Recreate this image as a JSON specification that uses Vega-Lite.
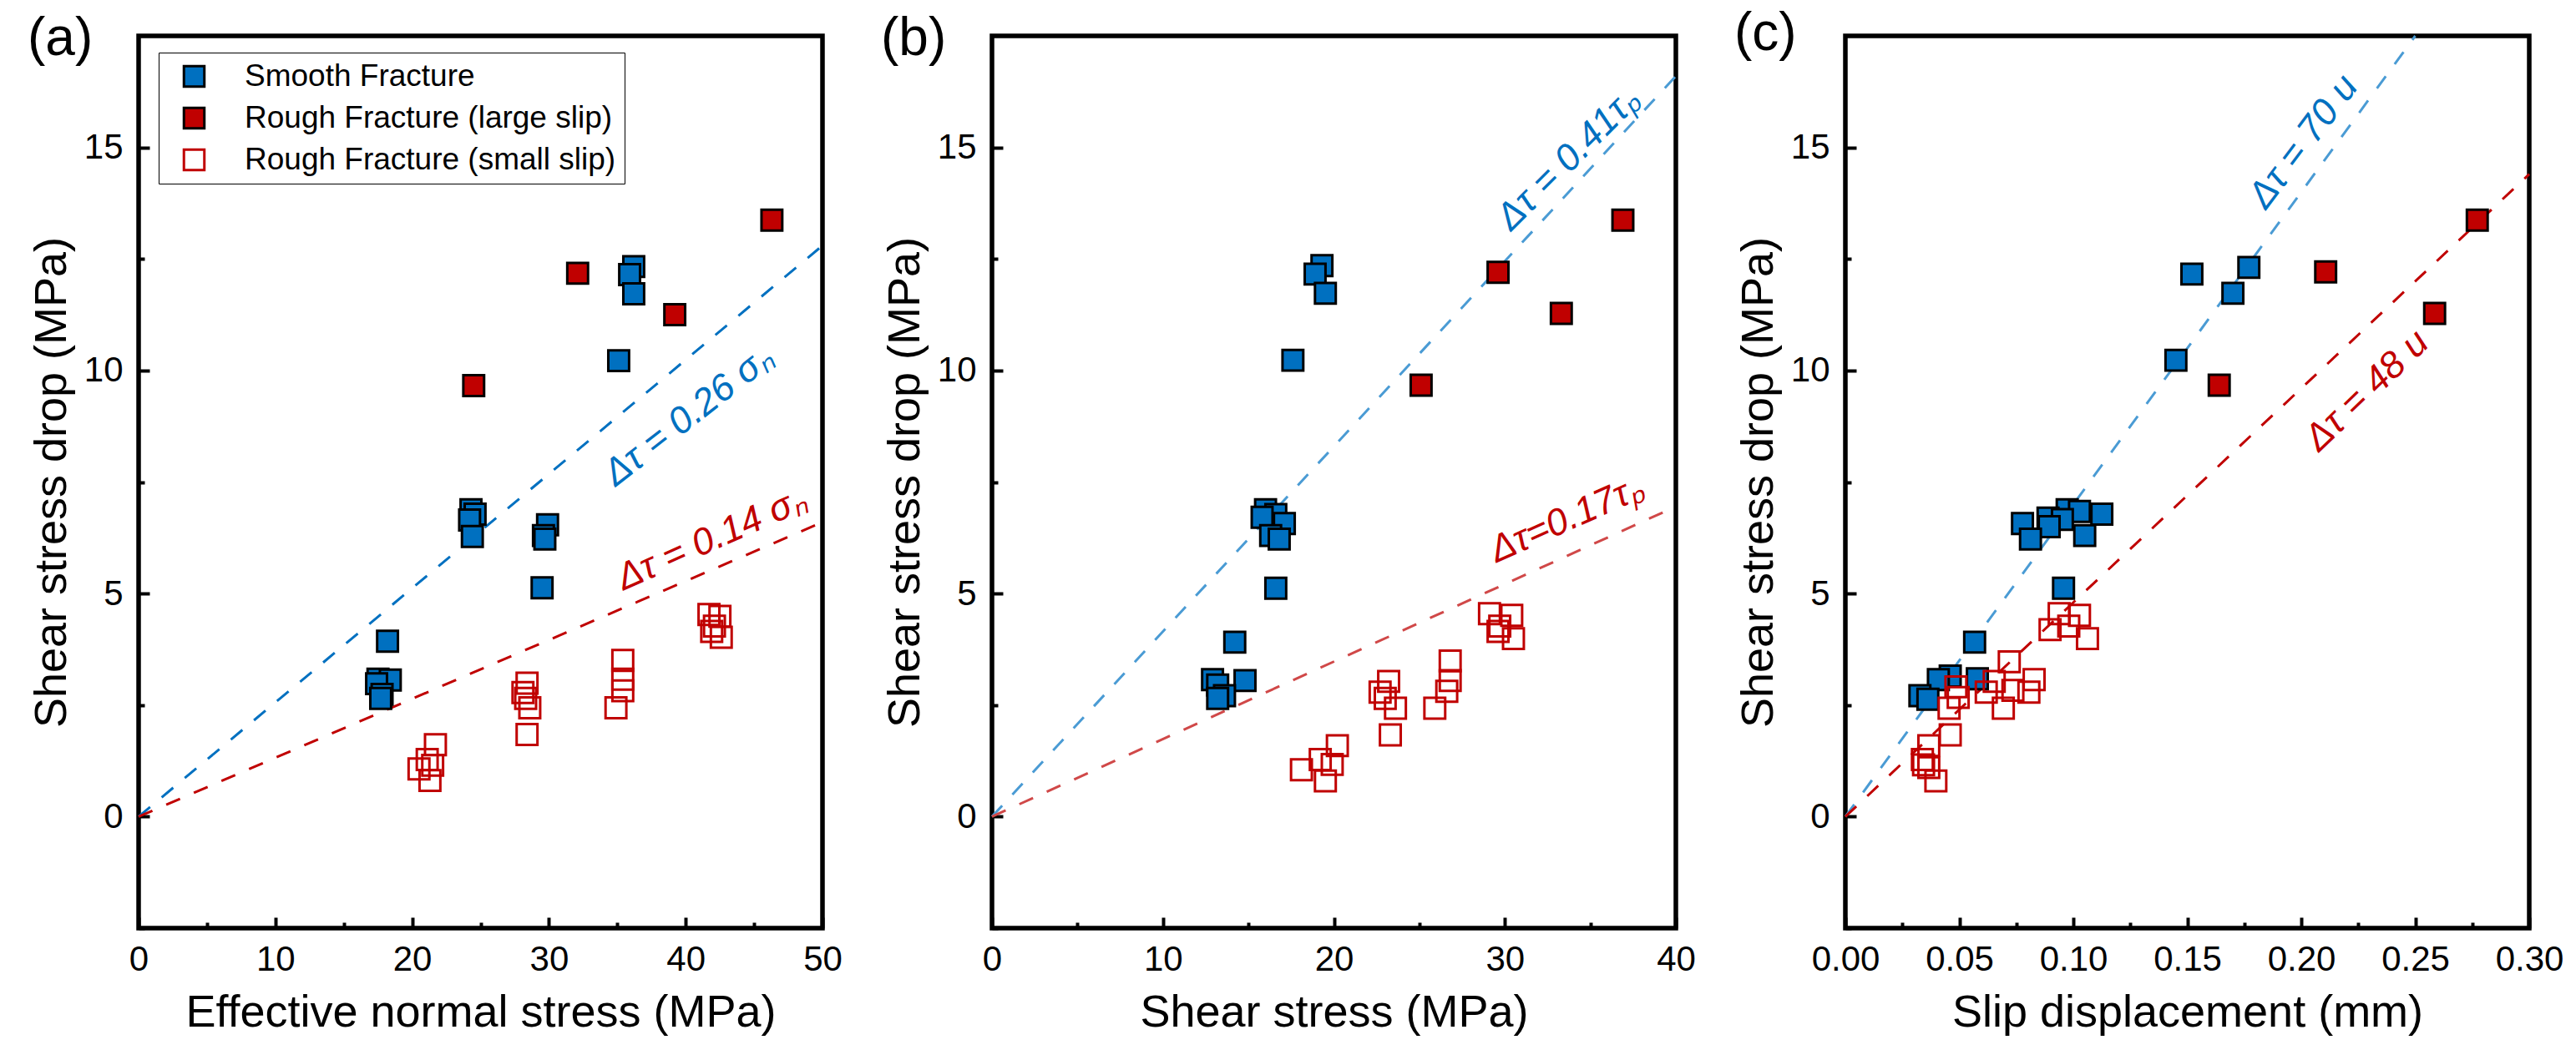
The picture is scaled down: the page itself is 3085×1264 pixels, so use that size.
{
  "$schema": "https://vega.github.io/schema/vega-lite/v6.json",
  "background": "white",
  "padding": {"left": 30, "top": 6, "right": 0, "bottom": 0},
  "config": {
    "font": "Liberation Sans",
    "view": {"stroke": "black", "strokeWidth": 5.5},
    "axis": {
      "domain": false,
      "grid": false,
      "labelFont": "Liberation Sans",
      "labelFontSize": 42,
      "labelColor": "black",
      "labelFlush": false,
      "labelOverlap": false,
      "titleFont": "Liberation Sans",
      "titleFontSize": 54,
      "titleFontWeight": "normal",
      "titleColor": "black",
      "tickColor": "black",
      "tickWidth": 4,
      "tickSize": -13
    },
    "axisX": {"labelPadding": 30, "titlePadding": 16},
    "axisY": {"labelPadding": 32, "titlePadding": 11},
    "title": {
      "font": "Liberation Sans",
      "fontSize": 64,
      "fontWeight": "normal",
      "color": "black",
      "anchor": "start",
      "frame": "group",
      "baseline": "alphabetic",
      "offset": 0,
      "dx": -133,
      "dy": 40
    },
    "legend": {
      "orient": "none",
      "legendX": 24,
      "legendY": 20,
      "labelFont": "Liberation Sans",
      "labelFontSize": 37,
      "labelColor": "black",
      "labelLimit": 600,
      "symbolType": "square",
      "symbolSize": 600,
      "symbolStrokeWidth": 3,
      "rowPadding": 12,
      "padding": 10,
      "symbolOffset": 14,
      "labelOffset": 42,
      "strokeColor": "black"
    }
  },
  "datasets": {
    "points": [
      {"panel": "a", "series": "Smooth Fracture", "x": 36.2, "y": 12.33},
      {"panel": "a", "series": "Smooth Fracture", "x": 35.9, "y": 12.15},
      {"panel": "a", "series": "Smooth Fracture", "x": 36.2, "y": 11.72},
      {"panel": "a", "series": "Smooth Fracture", "x": 35.1, "y": 10.22},
      {"panel": "a", "series": "Smooth Fracture", "x": 24.3, "y": 6.88},
      {"panel": "a", "series": "Smooth Fracture", "x": 24.6, "y": 6.78},
      {"panel": "a", "series": "Smooth Fracture", "x": 24.2, "y": 6.65},
      {"panel": "a", "series": "Smooth Fracture", "x": 24.4, "y": 6.28},
      {"panel": "a", "series": "Smooth Fracture", "x": 29.9, "y": 6.54},
      {"panel": "a", "series": "Smooth Fracture", "x": 29.6, "y": 6.3},
      {"panel": "a", "series": "Smooth Fracture", "x": 29.7, "y": 6.22},
      {"panel": "a", "series": "Smooth Fracture", "x": 29.5, "y": 5.13},
      {"panel": "a", "series": "Smooth Fracture", "x": 18.2, "y": 3.93},
      {"panel": "a", "series": "Smooth Fracture", "x": 17.5, "y": 3.08},
      {"panel": "a", "series": "Smooth Fracture", "x": 18.4, "y": 3.06},
      {"panel": "a", "series": "Smooth Fracture", "x": 17.4, "y": 2.98},
      {"panel": "a", "series": "Smooth Fracture", "x": 17.8, "y": 2.74},
      {"panel": "a", "series": "Smooth Fracture", "x": 17.7, "y": 2.65},
      {"panel": "a", "series": "Rough Fracture (large slip)", "x": 46.3, "y": 13.37},
      {"panel": "a", "series": "Rough Fracture (large slip)", "x": 32.1, "y": 12.18},
      {"panel": "a", "series": "Rough Fracture (large slip)", "x": 39.2, "y": 11.25},
      {"panel": "a", "series": "Rough Fracture (large slip)", "x": 24.5, "y": 9.66},
      {"panel": "a", "series": "Rough Fracture (small slip)", "x": 21.3, "y": 0.81},
      {"panel": "a", "series": "Rough Fracture (small slip)", "x": 20.5, "y": 1.07},
      {"panel": "a", "series": "Rough Fracture (small slip)", "x": 21.1, "y": 1.28},
      {"panel": "a", "series": "Rough Fracture (small slip)", "x": 21.5, "y": 1.15},
      {"panel": "a", "series": "Rough Fracture (small slip)", "x": 21.7, "y": 1.61},
      {"panel": "a", "series": "Rough Fracture (small slip)", "x": 28.4, "y": 1.84},
      {"panel": "a", "series": "Rough Fracture (small slip)", "x": 28.6, "y": 2.44},
      {"panel": "a", "series": "Rough Fracture (small slip)", "x": 28.1, "y": 2.78},
      {"panel": "a", "series": "Rough Fracture (small slip)", "x": 28.4, "y": 2.99},
      {"panel": "a", "series": "Rough Fracture (small slip)", "x": 28.3, "y": 2.65},
      {"panel": "a", "series": "Rough Fracture (small slip)", "x": 34.9, "y": 2.44},
      {"panel": "a", "series": "Rough Fracture (small slip)", "x": 35.4, "y": 2.82},
      {"panel": "a", "series": "Rough Fracture (small slip)", "x": 35.4, "y": 3.08},
      {"panel": "a", "series": "Rough Fracture (small slip)", "x": 35.4, "y": 3.5},
      {"panel": "a", "series": "Rough Fracture (small slip)", "x": 41.7, "y": 4.53},
      {"panel": "a", "series": "Rough Fracture (small slip)", "x": 42.1, "y": 4.27},
      {"panel": "a", "series": "Rough Fracture (small slip)", "x": 42.5, "y": 4.49},
      {"panel": "a", "series": "Rough Fracture (small slip)", "x": 41.9, "y": 4.15},
      {"panel": "a", "series": "Rough Fracture (small slip)", "x": 42.6, "y": 4.02},
      {"panel": "b", "series": "Smooth Fracture", "x": 19.3, "y": 12.35},
      {"panel": "b", "series": "Smooth Fracture", "x": 18.9, "y": 12.16},
      {"panel": "b", "series": "Smooth Fracture", "x": 19.5, "y": 11.73},
      {"panel": "b", "series": "Smooth Fracture", "x": 17.6, "y": 10.23},
      {"panel": "b", "series": "Smooth Fracture", "x": 16.0, "y": 6.88},
      {"panel": "b", "series": "Smooth Fracture", "x": 16.6, "y": 6.77},
      {"panel": "b", "series": "Smooth Fracture", "x": 15.8, "y": 6.71},
      {"panel": "b", "series": "Smooth Fracture", "x": 17.1, "y": 6.57},
      {"panel": "b", "series": "Smooth Fracture", "x": 16.3, "y": 6.3},
      {"panel": "b", "series": "Smooth Fracture", "x": 16.8, "y": 6.22},
      {"panel": "b", "series": "Smooth Fracture", "x": 16.6, "y": 5.12},
      {"panel": "b", "series": "Smooth Fracture", "x": 14.2, "y": 3.91},
      {"panel": "b", "series": "Smooth Fracture", "x": 12.9, "y": 3.07},
      {"panel": "b", "series": "Smooth Fracture", "x": 14.8, "y": 3.05},
      {"panel": "b", "series": "Smooth Fracture", "x": 13.2, "y": 2.95},
      {"panel": "b", "series": "Smooth Fracture", "x": 13.6, "y": 2.71},
      {"panel": "b", "series": "Smooth Fracture", "x": 13.2, "y": 2.65},
      {"panel": "b", "series": "Rough Fracture (large slip)", "x": 36.9, "y": 13.37},
      {"panel": "b", "series": "Rough Fracture (large slip)", "x": 29.6, "y": 12.2},
      {"panel": "b", "series": "Rough Fracture (large slip)", "x": 33.3, "y": 11.28},
      {"panel": "b", "series": "Rough Fracture (large slip)", "x": 25.1, "y": 9.67},
      {"panel": "b", "series": "Rough Fracture (small slip)", "x": 29.1, "y": 4.55},
      {"panel": "b", "series": "Rough Fracture (small slip)", "x": 30.4, "y": 4.51},
      {"panel": "b", "series": "Rough Fracture (small slip)", "x": 29.7, "y": 4.27},
      {"panel": "b", "series": "Rough Fracture (small slip)", "x": 29.6, "y": 4.15},
      {"panel": "b", "series": "Rough Fracture (small slip)", "x": 30.5, "y": 3.99},
      {"panel": "b", "series": "Rough Fracture (small slip)", "x": 26.8, "y": 3.49},
      {"panel": "b", "series": "Rough Fracture (small slip)", "x": 26.8, "y": 3.05},
      {"panel": "b", "series": "Rough Fracture (small slip)", "x": 26.6, "y": 2.81},
      {"panel": "b", "series": "Rough Fracture (small slip)", "x": 25.9, "y": 2.43},
      {"panel": "b", "series": "Rough Fracture (small slip)", "x": 23.2, "y": 3.03},
      {"panel": "b", "series": "Rough Fracture (small slip)", "x": 22.7, "y": 2.79},
      {"panel": "b", "series": "Rough Fracture (small slip)", "x": 23.0, "y": 2.65},
      {"panel": "b", "series": "Rough Fracture (small slip)", "x": 23.6, "y": 2.43},
      {"panel": "b", "series": "Rough Fracture (small slip)", "x": 23.3, "y": 1.83},
      {"panel": "b", "series": "Rough Fracture (small slip)", "x": 20.2, "y": 1.59},
      {"panel": "b", "series": "Rough Fracture (small slip)", "x": 19.2, "y": 1.28},
      {"panel": "b", "series": "Rough Fracture (small slip)", "x": 19.9, "y": 1.17},
      {"panel": "b", "series": "Rough Fracture (small slip)", "x": 18.1, "y": 1.05},
      {"panel": "b", "series": "Rough Fracture (small slip)", "x": 19.5, "y": 0.8},
      {"panel": "c", "series": "Smooth Fracture", "x": 0.177, "y": 12.31},
      {"panel": "c", "series": "Smooth Fracture", "x": 0.152, "y": 12.16},
      {"panel": "c", "series": "Smooth Fracture", "x": 0.17, "y": 11.73},
      {"panel": "c", "series": "Smooth Fracture", "x": 0.145, "y": 10.23},
      {"panel": "c", "series": "Smooth Fracture", "x": 0.0973, "y": 6.88},
      {"panel": "c", "series": "Smooth Fracture", "x": 0.1027, "y": 6.84},
      {"panel": "c", "series": "Smooth Fracture", "x": 0.1125, "y": 6.78},
      {"panel": "c", "series": "Smooth Fracture", "x": 0.0889, "y": 6.69},
      {"panel": "c", "series": "Smooth Fracture", "x": 0.0952, "y": 6.66},
      {"panel": "c", "series": "Smooth Fracture", "x": 0.0777, "y": 6.57},
      {"panel": "c", "series": "Smooth Fracture", "x": 0.0894, "y": 6.5},
      {"panel": "c", "series": "Smooth Fracture", "x": 0.105, "y": 6.3},
      {"panel": "c", "series": "Smooth Fracture", "x": 0.0812, "y": 6.22},
      {"panel": "c", "series": "Smooth Fracture", "x": 0.0957, "y": 5.12},
      {"panel": "c", "series": "Smooth Fracture", "x": 0.0567, "y": 3.91},
      {"panel": "c", "series": "Smooth Fracture", "x": 0.046, "y": 3.15},
      {"panel": "c", "series": "Smooth Fracture", "x": 0.0579, "y": 3.09},
      {"panel": "c", "series": "Smooth Fracture", "x": 0.0408, "y": 3.07},
      {"panel": "c", "series": "Smooth Fracture", "x": 0.0327, "y": 2.71},
      {"panel": "c", "series": "Smooth Fracture", "x": 0.0362, "y": 2.63},
      {"panel": "c", "series": "Rough Fracture (large slip)", "x": 0.2772, "y": 13.37},
      {"panel": "c", "series": "Rough Fracture (large slip)", "x": 0.2107, "y": 12.21},
      {"panel": "c", "series": "Rough Fracture (large slip)", "x": 0.2585, "y": 11.28},
      {"panel": "c", "series": "Rough Fracture (large slip)", "x": 0.164, "y": 9.67},
      {"panel": "c", "series": "Rough Fracture (small slip)", "x": 0.0938, "y": 4.55},
      {"panel": "c", "series": "Rough Fracture (small slip)", "x": 0.1027, "y": 4.51},
      {"panel": "c", "series": "Rough Fracture (small slip)", "x": 0.098, "y": 4.27},
      {"panel": "c", "series": "Rough Fracture (small slip)", "x": 0.0898, "y": 4.19},
      {"panel": "c", "series": "Rough Fracture (small slip)", "x": 0.1062, "y": 3.99},
      {"panel": "c", "series": "Rough Fracture (small slip)", "x": 0.0719, "y": 3.47},
      {"panel": "c", "series": "Rough Fracture (small slip)", "x": 0.0828, "y": 3.07},
      {"panel": "c", "series": "Rough Fracture (small slip)", "x": 0.0653, "y": 3.03},
      {"panel": "c", "series": "Rough Fracture (small slip)", "x": 0.0735, "y": 2.83},
      {"panel": "c", "series": "Rough Fracture (small slip)", "x": 0.0805, "y": 2.79},
      {"panel": "c", "series": "Rough Fracture (small slip)", "x": 0.0618, "y": 2.79},
      {"panel": "c", "series": "Rough Fracture (small slip)", "x": 0.0485, "y": 2.91},
      {"panel": "c", "series": "Rough Fracture (small slip)", "x": 0.0495, "y": 2.67},
      {"panel": "c", "series": "Rough Fracture (small slip)", "x": 0.0455, "y": 2.43},
      {"panel": "c", "series": "Rough Fracture (small slip)", "x": 0.0693, "y": 2.43},
      {"panel": "c", "series": "Rough Fracture (small slip)", "x": 0.046, "y": 1.83},
      {"panel": "c", "series": "Rough Fracture (small slip)", "x": 0.0366, "y": 1.59},
      {"panel": "c", "series": "Rough Fracture (small slip)", "x": 0.0338, "y": 1.28},
      {"panel": "c", "series": "Rough Fracture (small slip)", "x": 0.0343, "y": 1.16},
      {"panel": "c", "series": "Rough Fracture (small slip)", "x": 0.0366, "y": 1.1},
      {"panel": "c", "series": "Rough Fracture (small slip)", "x": 0.0397, "y": 0.8}
    ],
    "fits": [
      {"panel": "a", "fit": "smooth", "x": 0, "y": 0},
      {"panel": "a", "fit": "smooth", "x": 50, "y": 12.8},
      {"panel": "a", "fit": "rough", "x": 0, "y": 0},
      {"panel": "a", "fit": "rough", "x": 50, "y": 6.6},
      {"panel": "b", "fit": "smooth", "x": 0, "y": 0},
      {"panel": "b", "fit": "smooth", "x": 40, "y": 16.6},
      {"panel": "b", "fit": "rough", "x": 0, "y": 0},
      {"panel": "b", "fit": "rough", "x": 40, "y": 6.95},
      {"panel": "c", "fit": "smooth", "x": 0, "y": 0},
      {"panel": "c", "fit": "smooth", "x": 0.25, "y": 17.5},
      {"panel": "c", "fit": "rough", "x": 0, "y": 0},
      {"panel": "c", "fit": "rough", "x": 0.3, "y": 14.4}
    ],
    "notes": [
      {"id": "a1", "x": 40.2, "y": 8.99, "label": "Δτ = 0.26 σₙ"},
      {"id": "a2", "x": 41.9, "y": 6.23, "label": "Δτ = 0.14 σₙ"},
      {"id": "b1", "x": 33.7, "y": 14.75, "label": "Δτ = 0.41τₚ"},
      {"id": "b2", "x": 33.6, "y": 6.67, "label": "Δτ=0.17τₚ"},
      {"id": "c1", "x": 0.2009, "y": 15.13, "label": "Δτ = 70 u"},
      {"id": "c2", "x": 0.2287, "y": 9.55, "label": "Δτ = 48 u"}
    ]
  },
  "resolve": {"scale": {"fill": "independent", "stroke": "independent", "color": "independent"}},
  "bounds": "flush",
  "spacing": 203,
  "hconcat": [
    {
      "title": "(a)",
      "width": 819,
      "height": 1069,
      "resolve": {"axis": {"x": "independent", "y": "independent"}},
      "layer": [
        {
          "data": {"name": "fits"},
          "transform": [{"filter": "datum.panel === 'a'"}],
          "mark": {"type": "line", "strokeDash": [18, 18], "strokeWidth": 3},
          "encoding": {
            "x": {"field": "x", "type": "quantitative", "scale": {"domain": [0, 50], "nice": false},
                  "axis": {"values": [0, 10, 20, 30, 40, 50], "title": "Effective normal stress (MPa)"}},
            "y": {"field": "y", "type": "quantitative", "scale": {"domain": [-2.5, 17.5], "nice": false},
                  "axis": {"values": [0, 5, 10, 15], "title": "Shear stress drop (MPa)"}},
            "color": {"field": "fit", "type": "nominal", "legend": null,
                      "scale": {"domain": ["smooth", "rough"], "range": ["#0070C0", "#C00000"]}}
          }
        },
        {
          "data": {"name": "points"},
          "transform": [{"filter": "datum.panel === 'a'"}],
          "mark": {"type": "square", "size": 620, "strokeWidth": 3, "opacity": 1},
          "encoding": {
            "x": {"field": "x", "type": "quantitative", "axis": null},
            "y": {"field": "y", "type": "quantitative", "axis": null},
            "fill": {"field": "series", "type": "nominal", "title": null,
                     "scale": {"domain": ["Smooth Fracture", "Rough Fracture (large slip)", "Rough Fracture (small slip)"],
                               "range": ["#0070C0", "#C00000", "transparent"]}},
            "stroke": {"field": "series", "type": "nominal", "title": null,
                       "scale": {"domain": ["Smooth Fracture", "Rough Fracture (large slip)", "Rough Fracture (small slip)"],
                                 "range": ["black", "black", "#C00000"]}}
          }
        },
        {
          "data": {"name": "notes"},
          "transform": [{"filter": "datum.id === 'a1'"}],
          "mark": {"type": "text", "angle": -38, "color": "#0070C0", "fontSize": 45, "fontStyle": "italic"},
          "encoding": {
            "x": {"field": "x", "type": "quantitative",
                  "axis": {"values": [5, 15, 25, 35, 45], "labels": false, "title": null, "tickSize": -7, "orient": "bottom"}},
            "y": {"field": "y", "type": "quantitative",
                  "axis": {"values": [-2.5, 2.5, 7.5, 12.5], "labels": false, "title": null, "tickSize": -7, "orient": "left"}},
            "text": {"field": "label"}
          }
        },
        {
          "data": {"name": "notes"},
          "transform": [{"filter": "datum.id === 'a2'"}],
          "mark": {"type": "text", "angle": -24, "color": "#C00000", "fontSize": 45, "fontStyle": "italic"},
          "encoding": {
            "x": {"field": "x", "type": "quantitative", "axis": null},
            "y": {"field": "y", "type": "quantitative", "axis": null},
            "text": {"field": "label"}
          }
        }
      ]
    },
    {
      "title": "(b)",
      "width": 819,
      "height": 1069,
      "resolve": {"axis": {"x": "independent", "y": "independent"}},
      "layer": [
        {
          "data": {"name": "fits"},
          "transform": [{"filter": "datum.panel === 'b'"}],
          "mark": {"type": "line", "strokeDash": [18, 18], "strokeWidth": 3},
          "encoding": {
            "x": {"field": "x", "type": "quantitative", "scale": {"domain": [0, 40], "nice": false},
                  "axis": {"values": [0, 10, 20, 30, 40], "title": "Shear stress (MPa)"}},
            "y": {"field": "y", "type": "quantitative", "scale": {"domain": [-2.5, 17.5], "nice": false},
                  "axis": {"values": [0, 5, 10, 15], "title": "Shear stress drop (MPa)"}},
            "color": {"field": "fit", "type": "nominal", "legend": null,
                      "scale": {"domain": ["smooth", "rough"], "range": ["#4A9BD4", "#D04848"]}}
          }
        },
        {
          "data": {"name": "points"},
          "transform": [{"filter": "datum.panel === 'b'"}],
          "mark": {"type": "square", "size": 620, "strokeWidth": 3, "opacity": 1},
          "encoding": {
            "x": {"field": "x", "type": "quantitative", "axis": null},
            "y": {"field": "y", "type": "quantitative", "axis": null},
            "fill": {"field": "series", "type": "nominal", "legend": null,
                     "scale": {"domain": ["Smooth Fracture", "Rough Fracture (large slip)", "Rough Fracture (small slip)"],
                               "range": ["#0070C0", "#C00000", "transparent"]}},
            "stroke": {"field": "series", "type": "nominal", "legend": null,
                       "scale": {"domain": ["Smooth Fracture", "Rough Fracture (large slip)", "Rough Fracture (small slip)"],
                                 "range": ["black", "black", "#C00000"]}}
          }
        },
        {
          "data": {"name": "notes"},
          "transform": [{"filter": "datum.id === 'b1'"}],
          "mark": {"type": "text", "angle": -45, "color": "#0070C0", "fontSize": 45, "fontStyle": "italic"},
          "encoding": {
            "x": {"field": "x", "type": "quantitative",
                  "axis": {"values": [5, 15, 25, 35], "labels": false, "title": null, "tickSize": -7, "orient": "bottom"}},
            "y": {"field": "y", "type": "quantitative",
                  "axis": {"values": [-2.5, 2.5, 7.5, 12.5], "labels": false, "title": null, "tickSize": -7, "orient": "left"}},
            "text": {"field": "label"}
          }
        },
        {
          "data": {"name": "notes"},
          "transform": [{"filter": "datum.id === 'b2'"}],
          "mark": {"type": "text", "angle": -24, "color": "#C00000", "fontSize": 45, "fontStyle": "italic"},
          "encoding": {
            "x": {"field": "x", "type": "quantitative", "axis": null},
            "y": {"field": "y", "type": "quantitative", "axis": null},
            "text": {"field": "label"}
          }
        }
      ]
    },
    {
      "title": "(c)",
      "width": 819,
      "height": 1069,
      "resolve": {"axis": {"x": "independent", "y": "independent"}},
      "layer": [
        {
          "data": {"name": "fits"},
          "transform": [{"filter": "datum.panel === 'c'"}],
          "mark": {"type": "line", "strokeDash": [18, 18], "strokeWidth": 3},
          "encoding": {
            "x": {"field": "x", "type": "quantitative", "scale": {"domain": [0, 0.3], "nice": false},
                  "axis": {"values": [0, 0.05, 0.1, 0.15, 0.2, 0.25, 0.3], "format": ".2f", "title": "Slip displacement (mm)"}},
            "y": {"field": "y", "type": "quantitative", "scale": {"domain": [-2.5, 17.5], "nice": false},
                  "axis": {"values": [0, 5, 10, 15], "title": "Shear stress drop (MPa)"}},
            "color": {"field": "fit", "type": "nominal", "legend": null,
                      "scale": {"domain": ["smooth", "rough"], "range": ["#4A9BD4", "#C00000"]}}
          }
        },
        {
          "data": {"name": "points"},
          "transform": [{"filter": "datum.panel === 'c'"}],
          "mark": {"type": "square", "size": 620, "strokeWidth": 3, "opacity": 1},
          "encoding": {
            "x": {"field": "x", "type": "quantitative", "axis": null},
            "y": {"field": "y", "type": "quantitative", "axis": null},
            "fill": {"field": "series", "type": "nominal", "legend": null,
                     "scale": {"domain": ["Smooth Fracture", "Rough Fracture (large slip)", "Rough Fracture (small slip)"],
                               "range": ["#0070C0", "#C00000", "transparent"]}},
            "stroke": {"field": "series", "type": "nominal", "legend": null,
                       "scale": {"domain": ["Smooth Fracture", "Rough Fracture (large slip)", "Rough Fracture (small slip)"],
                                 "range": ["black", "black", "#C00000"]}}
          }
        },
        {
          "data": {"name": "notes"},
          "transform": [{"filter": "datum.id === 'c1'"}],
          "mark": {"type": "text", "angle": -53, "color": "#0070C0", "fontSize": 45, "fontStyle": "italic"},
          "encoding": {
            "x": {"field": "x", "type": "quantitative",
                  "axis": {"values": [0.025, 0.075, 0.125, 0.175, 0.225, 0.275], "labels": false, "title": null, "tickSize": -7, "orient": "bottom"}},
            "y": {"field": "y", "type": "quantitative",
                  "axis": {"values": [-2.5, 2.5, 7.5, 12.5], "labels": false, "title": null, "tickSize": -7, "orient": "left"}},
            "text": {"field": "label"}
          }
        },
        {
          "data": {"name": "notes"},
          "transform": [{"filter": "datum.id === 'c2'"}],
          "mark": {"type": "text", "angle": -44, "color": "#C00000", "fontSize": 45, "fontStyle": "italic"},
          "encoding": {
            "x": {"field": "x", "type": "quantitative", "axis": null},
            "y": {"field": "y", "type": "quantitative", "axis": null},
            "text": {"field": "label"}
          }
        }
      ]
    }
  ]
}
